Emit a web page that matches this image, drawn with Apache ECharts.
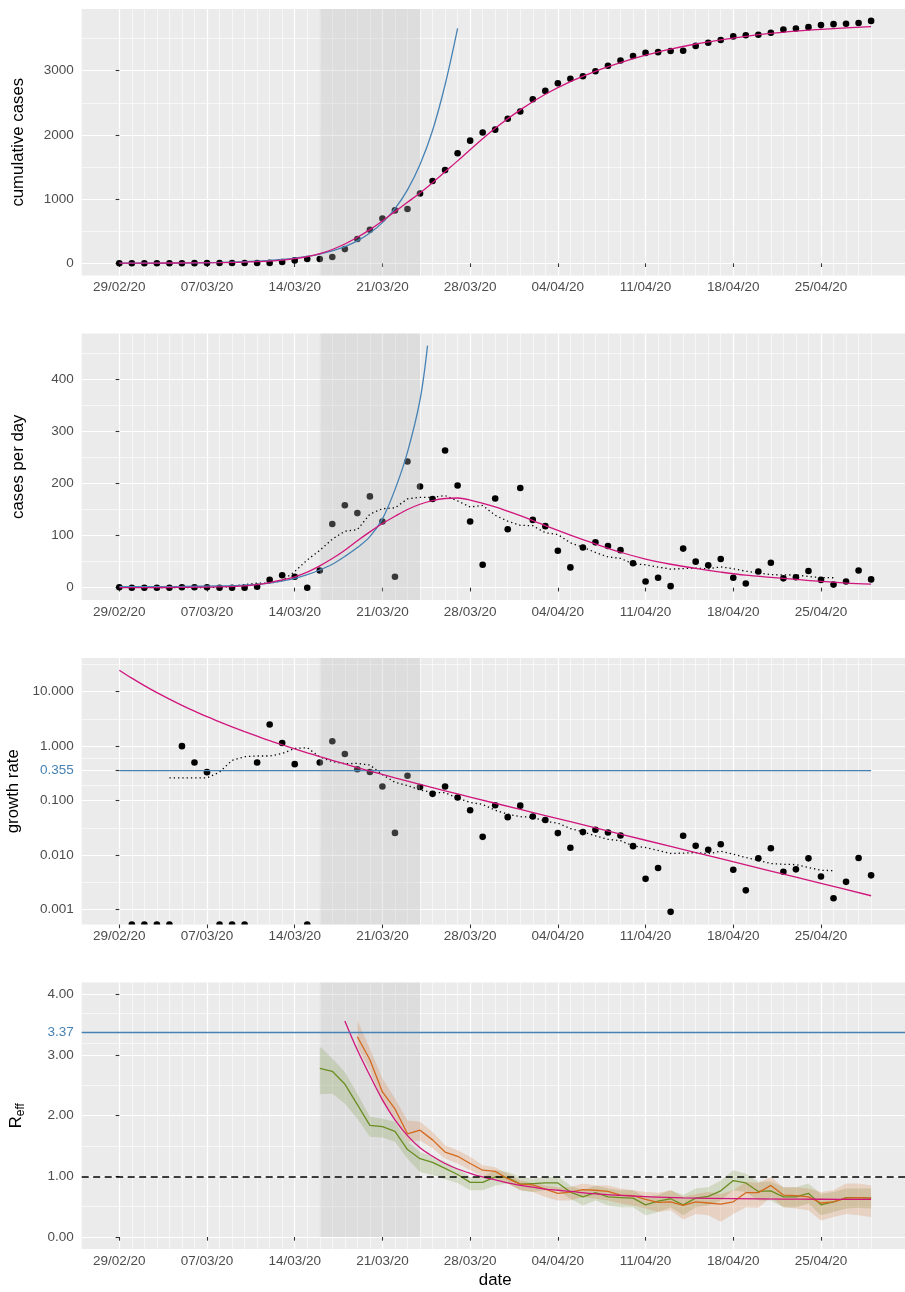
<!DOCTYPE html>
<html>
<head>
<meta charset="utf-8">
<script src="https://cdn.jsdelivr.net/npm/echarts@6/dist/echarts.min.js"></script>
<style>
  html, body { margin: 0; padding: 0; background: #ffffff; }
  #chart { width: 905px; height: 1292px; }
</style>
</head>
<body>
<div id="chart"></div>
<script>
// Day 0 is 29/02/20; every series below is indexed in days from that date.
const tickDays = [0, 7, 14, 21, 28, 35, 42, 49, 56];
const tickLabels = ['29/02/20', '07/03/20', '14/03/20', '21/03/20', '28/03/20',
                    '04/04/20', '11/04/20', '18/04/20', '25/04/20'];

// Shaded window (days)
const shadeStart = 16;
const shadeEnd = 24;

// Observed data, day 0 .. day 60
const dailyCases = [1, 0, 0, 0, 0, 1, 1, 1, 0, 0, 0, 2, 15, 24, 21, 0, 33, 122, 158, 143,
  175, 127, 21, 242, 194, 170, 263, 196, 127, 44, 171, 112, 191, 130, 118, 71, 39, 77, 87, 80,
  72, 47, 12, 19, 3, 75, 50, 43, 55, 19, 8, 31, 48, 18, 20, 32, 15, 6, 12, 33, 16];

const cumulativeCases = [0, 1, 1, 1, 1, 1, 2, 3, 4, 4, 4, 4, 6, 21, 45, 66, 66, 99, 221, 379,
  522, 697, 824, 845, 1087, 1281, 1451, 1714, 1910, 2037, 2081, 2252, 2364, 2555, 2685, 2803,
  2874, 2913, 2990, 3077, 3157, 3229, 3276, 3288, 3307, 3310, 3385, 3435, 3478, 3533, 3552,
  3560, 3591, 3639, 3657, 3677, 3709, 3724, 3730, 3742, 3775];

// Daily growth rate (new cases / cumulative); day 0 undefined, zeros sit on the panel floor
const growthRate = [null, 0, 0, 0, 0, 1, 0.5, 0.333, 0, 0, 0, 0.5, 2.5, 1.143, 0.467, 0, 0.5,
  1.232, 0.715, 0.377, 0.335, 0.182, 0.0255, 0.286, 0.178, 0.133, 0.181, 0.114, 0.0665, 0.0216,
  0.0822, 0.0497, 0.0808, 0.0509, 0.0439, 0.0253, 0.0136, 0.0264, 0.0291, 0.026, 0.0228,
  0.01456, 0.00366, 0.00578, 0.000907, 0.02266, 0.01477, 0.01252, 0.01581, 0.00538, 0.00225,
  0.00871, 0.01337, 0.00495, 0.00547, 0.0087, 0.00404, 0.00161, 0.00322, 0.00882, 0.00424];

// 7-day centred means (dotted lines)
const dailyMeanStart = 3;
const dailyMean = [0.43, 0.43, 0.43, 0.43, 0.43, 0.71, 2.71, 6.0, 8.86, 8.86, 13.57, 31.0, 53.3,
  71.6, 93.1, 108.3, 111.3, 141.1, 151.4, 153.1, 170.3, 173.3, 173.3, 176.6, 166.4, 154.7, 157.7,
  138.7, 127.6, 119.6, 118.9, 105.4, 101.9, 86.0, 77.7, 67.6, 59.1, 56.3, 45.7, 44.0, 39.7, 35.6,
  36.7, 37.7, 36.1, 40.1, 36.3, 31.7, 28.4, 25.1, 24.6, 24.3, 21.6, 19.4, 19.1];

const growthMeanStart = 4;
const growthMean = [0.262, 0.262, 0.262, 0.262, 0.333, 0.548, 0.639, 0.659, 0.659, 0.730, 0.906,
  0.937, 0.633, 0.518, 0.477, 0.481, 0.450, 0.300, 0.217, 0.189, 0.157, 0.1406, 0.140, 0.1109,
  0.0926, 0.0851, 0.0665, 0.0565, 0.0506, 0.0495, 0.0415, 0.0386, 0.0307, 0.0267, 0.02254,
  0.01945, 0.01834, 0.01469, 0.01377, 0.01216, 0.01069, 0.01087, 0.01112, 0.01061, 0.01173,
  0.0104, 0.009, 0.00799, 0.00698, 0.00678, 0.00669, 0.00591, 0.00526, 0.00516];

// Fitted curves
const cumFitDays = [0, 4, 8, 10, 11, 12, 13, 14, 15, 16, 17, 18, 19, 20, 21, 22, 23, 24, 25, 26, 27,
  28, 30, 32, 34, 36, 38, 40, 42, 44, 46, 48, 50, 52, 54, 56, 58, 60];
const cumFit = [3, 5, 10, 18, 25, 35, 50, 72, 105, 150, 215, 300, 405, 525, 660, 805, 950, 1095,
  1255, 1425, 1595, 1770, 2104, 2389, 2632, 2829, 2990, 3124, 3240, 3335, 3415, 3480, 3535,
  3580, 3615, 3643, 3665, 3684];

const cumExpDays = [0, 4, 8, 10, 12, 13, 14, 15, 16, 17, 18, 19, 20, 21, 22, 23, 24, 25, 26, 27];
const cumExp = [1.3, 4, 13, 24, 44, 59, 80, 107, 144, 194, 261, 350, 471, 633, 851, 1144, 1538,
  2068, 2780, 3658];

const dailyFitDays = [0, 4, 8, 10, 11, 12, 13, 14, 15, 16, 17, 18, 19, 20, 21, 22, 23, 24, 25, 26,
  27, 28, 30, 32, 34, 36, 38, 40, 42, 44, 46, 48, 50, 52, 54, 56, 58, 60];
const dailyFit = [0.3, 0.5, 1.5, 3.5, 6, 10, 15, 21, 30, 42, 56, 72, 90, 107, 123, 137, 150, 160,
  167, 171, 172, 168, 155, 138, 119, 101, 84, 68, 55, 45, 37, 30, 24, 20, 16, 12, 9, 7];

const dailyExpDays = [0, 5, 8, 10, 12, 13, 14, 15, 16, 17, 18, 19, 20, 21, 22, 23, 24, 24.6];
const dailyExp = [2, 2.5, 3.5, 5, 9, 13, 18, 25, 34, 45, 60, 77, 98, 132, 188, 260, 360, 464];

const growthFitDays = [0, 1, 2, 3, 4, 5, 6, 7, 8, 9, 10, 11, 12, 13, 14, 15, 16, 17, 18, 19, 20,
  22, 24, 26, 28, 32, 36, 40, 44, 48, 52, 56, 60];
const growthFit = [24.8, 17.7, 12.9, 9.59, 7.29, 5.61, 4.39, 3.48, 2.78, 2.25, 1.84, 1.52, 1.26,
  1.06, 0.891, 0.755, 0.642, 0.548, 0.470, 0.404, 0.349, 0.262, 0.198, 0.151, 0.116, 0.0689,
  0.0409, 0.0243, 0.0144, 0.00856, 0.00509, 0.00302, 0.00179];

// Early exponential growth rate and the matching reproduction number
const growthInitial = 0.355;
const growthLineDays = [0, 60];
const rInitial = 3.37;
const rThreshold = 1;

// Effective reproduction number estimates
const rGreenStart = 16;
const rGreen = [2.78, 2.73, 2.52, 2.18, 1.84, 1.82, 1.74, 1.44, 1.29, 1.23, 1.13, 1.03, 0.90, 0.90,
  0.99, 0.98, 0.87, 0.88, 0.89, 0.89, 0.74, 0.66, 0.73, 0.66, 0.65, 0.64, 0.53, 0.59, 0.63, 0.53,
  0.64, 0.67, 0.76, 0.93, 0.89, 0.75, 0.76, 0.66, 0.66, 0.72, 0.53, 0.58, 0.65, 0.65, 0.64];
const rGreenUpper = [3.14, 2.94, 2.72, 2.36, 1.98, 1.95, 1.90, 1.57, 1.40, 1.32, 1.24, 1.13, 0.99,
  0.99, 1.10, 1.07, 0.99, 0.96, 0.99, 1.0, 0.85, 0.77, 0.85, 0.80, 0.77, 0.77, 0.66, 0.69, 0.77,
  0.69, 0.80, 0.82, 0.93, 1.10, 1.04, 0.91, 0.91, 0.82, 0.82, 0.88, 0.71, 0.74, 0.80, 0.80, 0.80];
const rGreenLower = [2.35, 2.36, 2.20, 1.95, 1.65, 1.64, 1.57, 1.29, 1.07, 1.02, 0.95, 0.89, 0.77,
  0.77, 0.85, 0.88, 0.77, 0.74, 0.77, 0.77, 0.63, 0.52, 0.60, 0.52, 0.49, 0.49, 0.36, 0.41, 0.49,
  0.36, 0.49, 0.52, 0.60, 0.77, 0.74, 0.60, 0.60, 0.49, 0.49, 0.55, 0.36, 0.41, 0.47, 0.48, 0.47];

const rOrangeStart = 19;
const rOrange = [3.30, 2.92, 2.39, 2.11, 1.70, 1.76, 1.60, 1.40, 1.33, 1.21, 1.10, 1.08, 0.96, 0.87,
  0.86, 0.79, 0.72, 0.74, 0.78, 0.77, 0.75, 0.69, 0.68, 0.62, 0.57, 0.58, 0.52, 0.58, 0.56, 0.54,
  0.58, 0.73, 0.73, 0.85, 0.69, 0.68, 0.66, 0.56, 0.58, 0.64, 0.65, 0.64];
const rOrangeUpper = [3.57, 3.10, 2.61, 2.28, 1.92, 1.90, 1.73, 1.51, 1.43, 1.32, 1.18, 1.15, 1.04,
  0.93, 0.89, 0.85, 0.82, 0.82, 0.88, 0.85, 0.85, 0.80, 0.77, 0.74, 0.73, 0.77, 0.66, 0.71, 0.74,
  0.71, 0.77, 0.91, 0.89, 0.99, 0.82, 0.82, 0.80, 0.74, 0.77, 0.88, 0.88, 0.85];
const rOrangeLower = [3.13, 2.75, 2.22, 1.95, 1.57, 1.59, 1.46, 1.29, 1.21, 1.10, 1.00, 0.96, 0.88,
  0.77, 0.74, 0.66, 0.60, 0.60, 0.66, 0.63, 0.60, 0.55, 0.52, 0.47, 0.41, 0.44, 0.29, 0.38, 0.36,
  0.25, 0.38, 0.49, 0.48, 0.66, 0.49, 0.47, 0.44, 0.27, 0.33, 0.38, 0.36, 0.33];

const rFitDays = [18, 19, 20, 21, 22, 23, 24, 25, 26, 27, 28, 29, 30, 31, 32, 33, 34, 35, 36, 38,
  40, 42, 45, 49, 53, 56, 60];
const rFit = [3.56, 3.08, 2.66, 2.26, 1.93, 1.67, 1.47, 1.33, 1.21, 1.12, 1.05, 0.99, 0.94, 0.89,
  0.85, 0.82, 0.79, 0.77, 0.75, 0.71, 0.685, 0.665, 0.645, 0.632, 0.625, 0.622, 0.62];

// Axis ticks
const cumTicks = [0, 1000, 2000, 3000];
const cumMinor = [500, 1500, 2500, 3500];
const dailyTicks = [0, 100, 200, 300, 400];
const dailyMinor = [50, 150, 250, 350, 450];
const growthTicks = [0.001, 0.01, 0.1, growthInitial, 1, 10];
const growthMinor = [0.00316, 0.0316, 0.188, 0.596, 3.16, 31.6];
const rTicks = [0, 1, 2, 3, rInitial, 4];
const rMinor = [0.5, 1.5, 2.5, 3.185, 3.685];

// ---------------------------------------------------------------------------
const FONT = '"Liberation Sans", Arial, Helvetica, sans-serif';
const BLUE = '#4682B4';
const PINK = '#D0157C';
const GREEN = '#6B8E23';
const ORANGE = '#D2691E';
const SHADE = 'rgba(190,190,190,0.3)';
const LABEL = { color: '#4D4D4D', fontSize: 13.5, fontFamily: FONT };
const TICK_STYLE = { color: '#333333', width: 1.07 };
const MAJOR = { color: '#FFFFFF', width: 1.2 };
const MINOR = { color: '#FFFFFF', width: 0.6 };

const X_MIN = -3, X_MAX = 63;
const PANEL_LEFT = 81.7, PANEL_WIDTH = 827, PANEL_HEIGHT = 266.5;
const PANEL_TOPS = [9, 333.5, 658, 982.5];
const Y_RANGES = [[-190, 3960], [-23.5, 487.2], [0.000531, 41.5], [-0.198, 4.193]];
const dayLines = [];
for (let d = 0; d <= 60; d++) dayLines.push(d);

const fromDay = (start, vals) => vals.map((v, k) => [start + k, v]);
const pairs = (days, vals) => days.map((d, k) => [d, vals[k]]);

const grids = PANEL_TOPS.map(top => ({
  left: PANEL_LEFT, top: top, width: PANEL_WIDTH, height: PANEL_HEIGHT,
  show: true, backgroundColor: '#EBEBEB', borderWidth: 0,
  containLabel: false, outerBoundsMode: 'none'
}));

const xAxes = [];
const yAxes = [];
for (let i = 0; i < 4; i++) {
  xAxes.push({
    type: 'value', gridIndex: i, min: X_MIN, max: X_MAX, position: 'bottom',
    axisLine: { show: false },
    axisTick: { show: true, length: 3.7, customValues: tickDays, lineStyle: TICK_STYLE },
    axisLabel: Object.assign({
      customValues: tickDays, margin: 5,
      formatter: v => tickLabels[tickDays.indexOf(Math.round(v))]
    }, LABEL),
    splitLine: { show: true, lineStyle: MAJOR },
    name: i === 3 ? 'date' : '', nameLocation: 'middle', nameGap: 23,
    nameTextStyle: { color: '#000000', fontSize: 16.8, fontFamily: FONT }
  });
  xAxes.push({
    type: 'value', gridIndex: i, min: X_MIN, max: X_MAX, position: 'bottom',
    axisLine: { show: false },
    axisTick: { show: false, customValues: dayLines },
    axisLabel: { show: false },
    splitLine: { show: true, lineStyle: MINOR }
  });
}

function nearestIndex(list, v) {
  let best = 0;
  for (let k = 1; k < list.length; k++) {
    if (Math.abs(Math.log(list[k]) - Math.log(v)) < Math.abs(Math.log(list[best]) - Math.log(v))) best = k;
  }
  return best;
}

const yNames = ['cumulative cases', 'cases per day', 'growth rate', '{r|R}{s|eff}'];
const yTicks = [cumTicks, dailyTicks, growthTicks, rTicks];
const yMinors = [cumMinor, dailyMinor, growthMinor, rMinor];
const yFormat = [
  v => String(Math.round(v)),
  v => String(Math.round(v)),
  v => {
    const t = growthTicks[nearestIndex(growthTicks, v)];
    return t === growthInitial ? '{hl|' + t.toFixed(3) + '}' : t.toFixed(3);
  },
  v => {
    let k = 0;
    rTicks.forEach((t, j) => { if (Math.abs(t - v) < Math.abs(rTicks[k] - v)) k = j; });
    const t = rTicks[k];
    return t === rInitial ? '{hl|' + t.toFixed(2) + '}' : t.toFixed(2);
  }
];

for (let i = 0; i < 4; i++) {
  const isLog = i === 2;
  const base = {
    type: isLog ? 'log' : 'value', gridIndex: i,
    min: Y_RANGES[i][0], max: Y_RANGES[i][1]
  };
  if (isLog) base.logBase = 10;
  yAxes.push(Object.assign({}, base, {
    axisLine: { show: false },
    axisTick: { show: true, length: 3.7, customValues: yTicks[i], lineStyle: TICK_STYLE },
    axisLabel: Object.assign({
      customValues: yTicks[i], margin: 8, formatter: yFormat[i],
      rich: { hl: { color: BLUE, fontSize: 13.5, fontFamily: FONT } }
    }, LABEL),
    splitLine: { show: true, lineStyle: MAJOR },
    name: yNames[i], nameLocation: 'middle', nameGap: 55,
    nameTextStyle: {
      color: '#000000', fontSize: 16.8, fontFamily: FONT,
      rich: {
        r: { fontSize: 16.8, fontFamily: FONT, color: '#000000', lineHeight: 20 },
        s: { fontSize: 12, fontFamily: FONT, color: '#000000', lineHeight: 10, verticalAlign: 'bottom' }
      }
    }
  }));
  yAxes.push(Object.assign({}, base, {
    axisLine: { show: false },
    axisTick: { show: false, customValues: yMinors[i] },
    axisLabel: { show: false },
    splitLine: { show: true, lineStyle: MINOR }
  }));
}

const ax = i => ({ xAxisIndex: 2 * i, yAxisIndex: 2 * i });

function points(i, data, extra) {
  return Object.assign({
    type: 'scatter', symbol: 'circle', symbolSize: 6.6, z: 2,
    itemStyle: { color: '#000000', opacity: 1 }, data: data, silent: true
  }, ax(i), extra || {});
}
function curve(i, data, color, extra) {
  return Object.assign({
    type: 'line', data: data, showSymbol: false, symbol: 'none', smooth: 0.35, z: 4,
    lineStyle: { color: color, width: 1.3 }, silent: true
  }, ax(i), extra || {});
}
function dotted(i, data) {
  return curve(i, data, '#000000', {
    smooth: false, lineStyle: { color: '#000000', width: 1.3, type: [1.3, 3.0] }
  });
}
// The shaded window sits over the points but under the lines
function shade(i, yFrom, yTo) {
  const from = { xAxis: shadeStart }, to = { xAxis: shadeEnd };
  if (yFrom !== undefined) { from.yAxis = yFrom; to.yAxis = yTo; }
  return Object.assign({
    type: 'line', data: [], silent: true, z: 3,
    markArea: { silent: true, z: 3, itemStyle: { color: SHADE }, data: [[from, to]] }
  }, ax(i));
}
// Confidence band: one polygon through the upper bounds and back along the lower bounds
function ribbon(i, start, lower, upper, color) {
  const rows = lower.map((lo, k) => [start + k, lo, upper[k]]);
  return Object.assign({
    type: 'custom', z: 4, silent: true, clip: true,
    data: rows, encode: { x: 0, y: [1, 2] },
    renderItem: (params, api) => {
      if (params.dataIndex !== 0) return null;
      const top = rows.map(r => api.coord([r[0], r[2]]));
      const bottom = rows.slice().reverse().map(r => api.coord([r[0], r[1]]));
      return { type: 'polygon', shape: { points: top.concat(bottom) }, style: { fill: color } };
    }
  }, ax(i));
}

const floorValue = Y_RANGES[2][0];
const growthPositive = [];
const growthZero = [];
growthRate.forEach((v, d) => {
  if (v === null) return;
  if (v > 0) growthPositive.push([d, v]); else growthZero.push([d, floorValue]);
});

const series = [
  // cumulative cases
  points(0, fromDay(0, cumulativeCases)),
  shade(0),
  curve(0, pairs(cumExpDays, cumExp), BLUE),
  curve(0, pairs(cumFitDays, cumFit), PINK),

  // cases per day
  points(1, fromDay(0, dailyCases)),
  shade(1),
  dotted(1, fromDay(dailyMeanStart, dailyMean)),
  curve(1, pairs(dailyExpDays, dailyExp), BLUE),
  curve(1, pairs(dailyFitDays, dailyFit), PINK),

  // growth rate
  points(2, growthPositive),
  points(2, growthZero, {
    symbol: 'path://M0,10 A10,10 0 0 1 20,10 Z', symbolKeepAspect: true,
    symbolOffset: [0, -1.65]
  }),
  shade(2),
  dotted(2, fromDay(growthMeanStart, growthMean)),
  curve(2, growthLineDays.map(d => [d, growthInitial]), BLUE, { smooth: false }),
  curve(2, pairs(growthFitDays, growthFit), PINK),

  // effective reproduction number
  shade(3, 0, Y_RANGES[3][1]),
  ribbon(3, rGreenStart, rGreenLower, rGreenUpper, 'rgba(107,142,35,0.2)'),
  ribbon(3, rOrangeStart, rOrangeLower, rOrangeUpper, 'rgba(210,105,30,0.2)'),
  curve(3, fromDay(rGreenStart, rGreen), GREEN, { smooth: false }),
  curve(3, fromDay(rOrangeStart, rOrange), ORANGE, { smooth: false }),
  curve(3, pairs(rFitDays, rFit), PINK),
  Object.assign({
    type: 'line', data: [], silent: true,
    markLine: {
      silent: true, symbol: ['none', 'none'], label: { show: false },
      data: [
        { yAxis: rInitial, lineStyle: { color: BLUE, width: 1.3, type: 'solid' } },
        { yAxis: rThreshold, lineStyle: { color: '#000000', width: 1.6, type: [7, 4.5] } }
      ]
    }
  }, ax(3))
];

const chart = echarts.init(document.getElementById('chart'), null, { renderer: 'canvas' });
chart.setOption({
  animation: false,
  backgroundColor: '#FFFFFF',
  textStyle: { fontFamily: FONT },
  grid: grids,
  xAxis: xAxes,
  yAxis: yAxes,
  series: series
});
</script>
</body>
</html>
